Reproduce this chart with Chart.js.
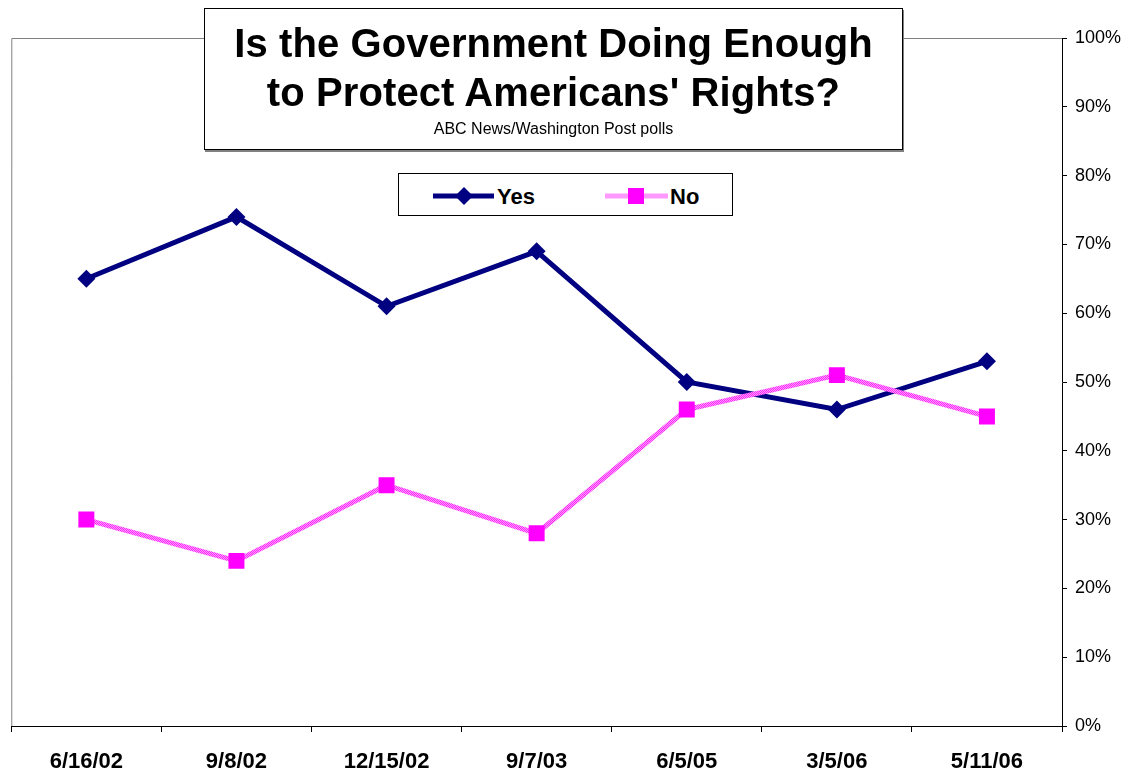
<!DOCTYPE html>
<html>
<head>
<meta charset="utf-8">
<title>Is the Government Doing Enough to Protect Americans' Rights?</title>
<script src="https://cdn.jsdelivr.net/npm/chart.js@4.4.1/dist/chart.umd.min.js"></script>
<style>
  body { margin: 0; background: #fff; font-family: 'Liberation Sans', Arial, sans-serif; }
  #wrap { position: relative; width: 1133px; height: 771px; }
  #chart { position: absolute; left: 0; top: 0; }
  #title-box {
    position: absolute; left: 204px; top: 8px; width: 697px; height: 140px;
    border: 1px solid #000; background: #fff; box-shadow: 1px 2px 0 #808080;
    text-align: center; color: #000;
  }
  #title-box h1 { margin: 10px 0 0; font-size: 40px; line-height: 49px; font-weight: bold; letter-spacing: 0.1px; }
  #title-box p { margin: 3px 0 0; font-size: 16px; line-height: 18px; }
  #legend-box {
    position: absolute; left: 398px; top: 173px; width: 333px; height: 41px;
    border: 1px solid #000; background: #fff;
  }
  #legend-box svg { position: absolute; left: 0; top: 0; }
  .legend-label { position: absolute; top: 10px; font-size: 22px; line-height: 26px; font-weight: bold; }
</style>
</head>
<body>
<div id="wrap">
  <canvas id="chart" width="1133" height="771"></canvas>
  <div id="title-box">
    <h1>Is the Government Doing Enough<br>to Protect Americans' Rights?</h1>
    <p>ABC News/Washington Post polls</p>
  </div>
  <div id="legend-box">
    <svg width="333" height="41">
      <line x1="34" y1="22" x2="95" y2="22" stroke="#000080" stroke-width="5"/>
      <polygon points="65,13 74,22 65,31 56,22" fill="#000080"/>
      <line x1="206" y1="22" x2="269" y2="22" stroke="#ff99ff" stroke-width="5"/>
      <rect x="229" y="14" width="16" height="16" fill="#ff00ff"/>
    </svg>
    <span class="legend-label" style="left:98px">Yes</span>
    <span class="legend-label" style="left:271px">No</span>
  </div>
</div>
<script>
// poll dates and shares (percent)
const categories = ['6/16/02', '9/8/02', '12/15/02', '9/7/03', '6/5/05', '3/5/06', '5/11/06'];
const yesValues = [65, 74, 61, 69, 50, 46, 53];
const noValues = [30, 24, 35, 28, 46, 51, 45];
const percentMin = 0;
const percentMax = 100;
const percentStep = 10;

const FONT = "'Liberation Sans', Arial, sans-serif";

// dotted pink texture for the "No" line
function pinkPattern() {
  const c = document.createElement('canvas');
  c.width = 2;
  c.height = 2;
  const g = c.getContext('2d');
  g.fillStyle = '#ffa0ff';
  g.fillRect(0, 0, 2, 2);
  g.fillStyle = '#ff22ff';
  g.fillRect(0, 0, 1, 1);
  g.fillRect(1, 1, 1, 1);
  return g.createPattern(c, 'repeat');
}

// gray left/top edges of the plot area
const plotFrame = {
  id: 'plotFrame',
  beforeDatasetsDraw(chart) {
    const { ctx, chartArea: a } = chart;
    ctx.save();
    ctx.strokeStyle = '#808080';
    ctx.lineWidth = 1;
    ctx.beginPath();
    ctx.moveTo(a.left + 0.5, a.bottom);
    ctx.lineTo(a.left + 0.5, a.top + 0.5);
    ctx.lineTo(a.right, a.top + 0.5);
    ctx.stroke();
    ctx.restore();
  },
};

new Chart(document.getElementById('chart'), {
  type: 'line',
  data: {
    labels: categories,
    datasets: [
      {
        label: 'Yes',
        data: yesValues,
        order: 1,
        borderColor: '#000080',
        backgroundColor: '#000080',
        borderWidth: 5,
        tension: 0,
        pointStyle: 'rectRot',
        pointRadius: 9,
        pointBorderWidth: 0,
        pointBackgroundColor: '#000080',
      },
      {
        label: 'No',
        data: noValues,
        order: 0,
        borderColor: pinkPattern(),
        backgroundColor: '#ff00ff',
        borderWidth: 5,
        tension: 0,
        pointStyle: 'rect',
        pointRadius: 11.3,
        pointBorderWidth: 0,
        pointBackgroundColor: '#ff00ff',
      },
    ],
  },
  options: {
    responsive: false,
    animation: false,
    layout: { padding: { left: 5, top: 38, right: 0, bottom: 0 } },
    plugins: {
      legend: { display: false },
      title: { display: false },
      tooltip: { enabled: false },
    },
    scales: {
      x: {
        offset: true,
        grid: { offset: true, drawOnChartArea: false, drawTicks: true, tickLength: 6, color: '#000' },
        border: { display: true, color: '#000', width: 1 },
        ticks: { color: '#000', padding: 17, maxRotation: 0, font: { family: FONT, size: 22, weight: 'bold' } },
        afterFit(scale) { scale.height = 45; },
      },
      y: {
        position: 'right',
        min: percentMin,
        max: percentMax,
        grid: { drawOnChartArea: false, drawTicks: true, tickLength: 5, color: '#000' },
        border: { display: true, color: '#000', width: 1 },
        ticks: {
          stepSize: percentStep,
          color: '#000',
          padding: 8,
          font: { family: FONT, size: 18 },
          callback: (v) => v + '%',
        },
        afterFit(scale) { scale.width = 71; },
      },
    },
  },
  plugins: [plotFrame],
});
</script>
</body>
</html>
